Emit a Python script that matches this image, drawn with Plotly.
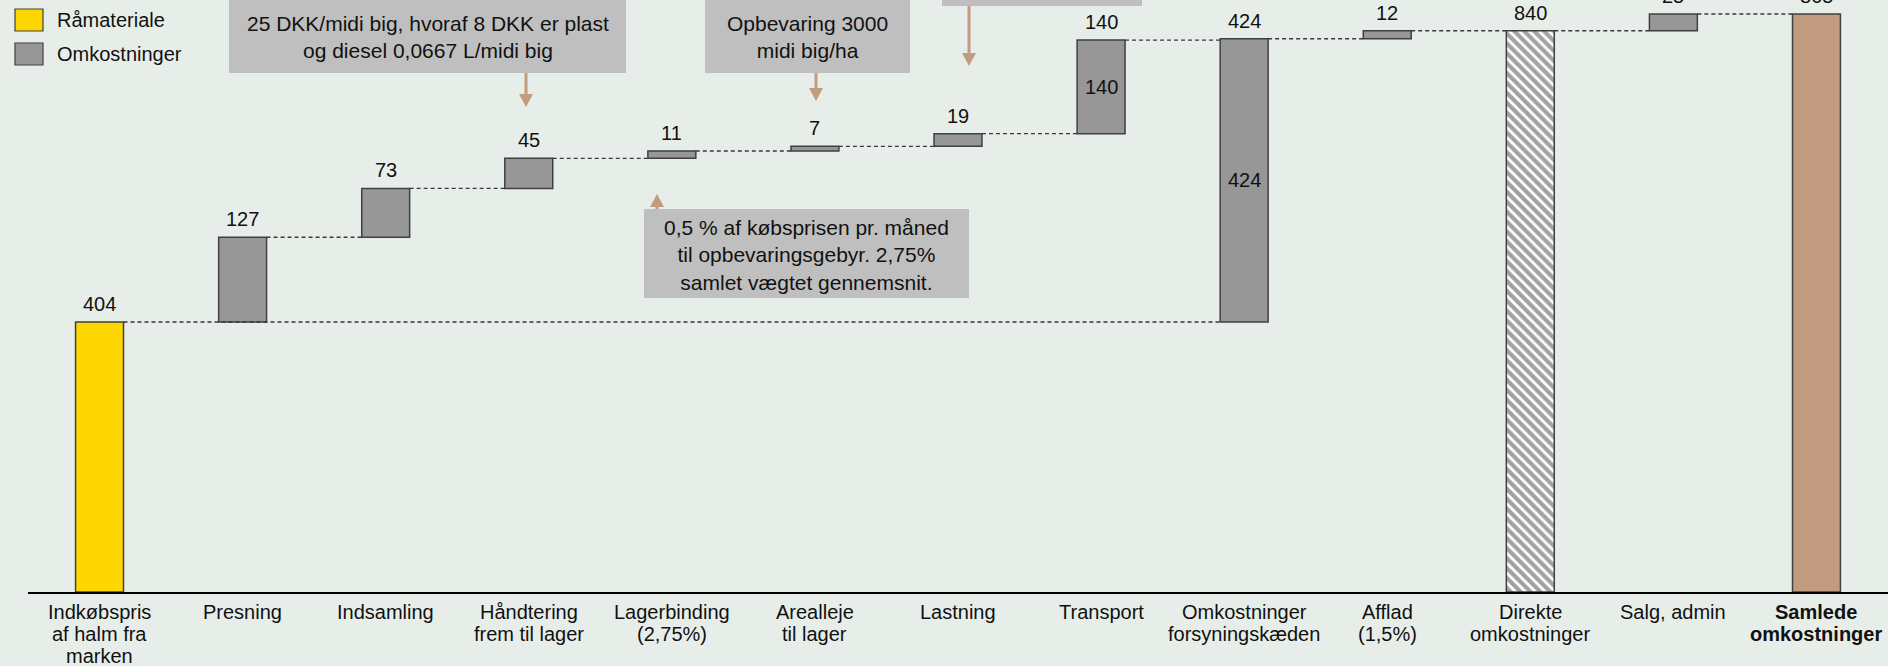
import plotly.graph_objects as go

# ---------------- data ----------------
categories = [
    "Indkøbspris<br>af halm fra<br>marken",
    "Presning",
    "Indsamling",
    "Håndtering<br>frem til lager",
    "Lagerbinding<br>(2,75%)",
    "Arealleje<br>til lager",
    "Lastning",
    "Transport",
    "Omkostninger<br>forsyningskæden",
    "Afflad<br>(1,5%)",
    "Direkte<br>omkostninger",
    "Salg, admin",
    "<b>Samlede</b><br><b>omkostninger</b>",
]
values = [404, 127, 73, 45, 11, 7, 19, 140, 424, 12, 840, 25, 865]
kinds = ["start", "step", "step", "step", "step", "step", "step", "step",
         "subtotal", "step", "total", "step", "total"]
inner_label = [False, False, False, False, False, False, False, True,
               True, False, False, False, False]
legend_names = ["Råmateriale", "Omkostninger"]

box_texts = [
    "25 DKK/midi big, hvoraf 8 DKK er plast<br>og diesel 0,0667 L/midi big",
    "Opbevaring 3000<br>midi big/ha",
    "",
    "0,5 % af købsprisen pr. måned<br>til opbevaringsgebyr. 2,75%<br>samlet vægtet gennemsnit.",
]

# ---------------- style ----------------
BG = "#E7EEE9"
YELLOW = "#FFD700"
GREY = "#979797"
TAN = "#C19B80"
EDGE = "#404040"
BOXC = "#BFBFBF"
ARROW = "#C39B7E"
TXT = "#111111"
FONT = "Liberation Sans, Arial, sans-serif"
FS = 20
FS_BOX = 21

W, H = 1888, 666
ML, MR, MT, MB = 28, 0, 0, 74
PW = W - ML - MR
PH = H - MT - MB


def pxx(p):
    return (p - ML) / PW


def pxy(p):
    return (PH + MT - p) / PH


# ---------------- compute waterfall geometry ----------------
bases, heights, colors, shapes_pat = [], [], [], []
running = 0
start_val = 0
n_total = 0
sub_idx = kinds.index("subtotal")
for v, k in zip(values, kinds):
    if k == "start":
        b, h = 0, v
        start_val = v
        running = v
        colors.append(YELLOW)
        shapes_pat.append("")
    elif k == "step":
        b, h = running, v
        running += v
        colors.append(GREY)
        shapes_pat.append("")
    elif k == "subtotal":
        b, h = start_val, v
        running = start_val + v
        colors.append(GREY)
        shapes_pat.append("")
    else:  # total
        b, h = 0, v
        running = v
        colors.append("white" if n_total == 0 else TAN)
        shapes_pat.append("\\" if n_total == 0 else "")
        n_total += 1
    bases.append(b)
    heights.append(h)

tops = [b + h for b, h in zip(bases, heights)]
xs = list(range(len(values)))
BW = 0.335

fig = go.Figure()

# connectors
cx, cy = [], []
for i in range(len(values) - 1):
    lvl = tops[i]
    j = sub_idx if kinds[i] == "start" else i + 1
    cx += [i + BW / 2, j - BW / 2, None]
    cy += [lvl, lvl, None]
fig.add_trace(go.Scatter(x=cx, y=cy, mode="lines", hoverinfo="skip",
                         line=dict(color="#3a3a3a", width=1.4, dash="4px,3px"),
                         showlegend=False))

fig.add_trace(go.Bar(
    x=xs, y=heights, base=bases, width=BW,
    marker=dict(color=colors, line=dict(color=EDGE, width=1.5),
                pattern=dict(shape=shapes_pat, fgcolor="black", bgcolor="white",
                             size=7, solidity=0.6)),
    showlegend=False, hoverinfo="skip",
))

annotations = []
# value labels above bars
for i, (v, t) in enumerate(zip(values, tops)):
    annotations.append(dict(x=i, y=t, xref="x", yref="y", text=str(v),
                            showarrow=False, yanchor="bottom", yshift=5,
                            font=dict(size=FS, color=TXT, family=FONT)))
    if inner_label[i]:
        annotations.append(dict(x=i, y=bases[i] + heights[i] / 2, xref="x", yref="y",
                                text=str(v), showarrow=False, yanchor="middle",
                                font=dict(size=FS, color=TXT, family=FONT)))

# category labels (line by line for tight spacing)
for i, lab in enumerate(categories):
    for k, line in enumerate(lab.split("<br>")):
        annotations.append(dict(x=i, y=0, xref="x", yref="paper", text=line,
                                showarrow=False, yanchor="top", yshift=-7 - 22 * k,
                                font=dict(size=FS, color=TXT, family=FONT)))

shapes = []
# legend
leg_cols = [YELLOW, GREY]
leg_y = [(9, 31), (43, 65)]
for name, col, (y0, y1) in zip(legend_names, leg_cols, leg_y):
    shapes.append(dict(type="rect", xref="paper", yref="paper",
                       x0=pxx(15), x1=pxx(43), y0=pxy(y1), y1=pxy(y0),
                       fillcolor=col, line=dict(color=EDGE, width=1.2)))
    annotations.append(dict(x=pxx(55), y=pxy((y0 + y1) / 2), xref="paper", yref="paper",
                            text=name, showarrow=False, xanchor="left", yanchor="middle",
                            font=dict(size=FS, color=TXT, family=FONT)))

# callout boxes (pixel geometry)
boxes = [
    dict(x0=229, x1=626, y0=-10, y1=73, cy=37),
    dict(x0=705, x1=910, y0=-10, y1=73, cy=37),
    dict(x0=942, x1=1142, y0=-60, y1=6, cy=-27),
    dict(x0=644, x1=969, y0=209, y1=298, cy=255),
]
for b, txt in zip(boxes, box_texts):
    shapes.append(dict(type="rect", xref="paper", yref="paper",
                       x0=pxx(b["x0"]), x1=pxx(b["x1"]), y0=pxy(b["y1"]), y1=pxy(b["y0"]),
                       fillcolor=BOXC, line=dict(width=0), layer="above"))
    if txt:
        annotations.append(dict(x=pxx((b["x0"] + b["x1"]) / 2), y=pxy(b["cy"]),
                                xref="paper", yref="paper", text=txt, showarrow=False,
                                xanchor="center", yanchor="middle",
                                font=dict(size=FS_BOX, color=TXT, family=FONT)))

# arrows: (x, tail_y, tip_y)
arrows = [(526, 73, 107), (816, 73, 101), (969, 6, 66), (657, 209, 194)]
for ax_, y0, y1 in arrows:
    d = 1 if y1 > y0 else -1
    head = 13
    yb = y1 - d * head
    if abs(yb - y0) > 1:
        shapes.append(dict(type="line", xref="paper", yref="paper",
                           x0=pxx(ax_), x1=pxx(ax_), y0=pxy(y0), y1=pxy(yb),
                           line=dict(color=ARROW, width=3), layer="above"))
    path = "M {a},{b} L {c},{b} L {e},{f} Z".format(
        a=pxx(ax_ - 7), b=pxy(yb), c=pxx(ax_ + 7), e=pxx(ax_), f=pxy(y1))
    shapes.append(dict(type="path", xref="paper", yref="paper", path=path,
                       fillcolor=ARROW, line=dict(width=0), layer="above"))

fig.update_layout(
    width=W, height=H,
    margin=dict(l=ML, r=MR, t=MT, b=MB),
    paper_bgcolor=BG, plot_bgcolor=BG,
    font=dict(family=FONT, size=FS, color=TXT),
    xaxis=dict(range=[-0.5, len(values) - 0.5], showticklabels=False, ticks="",
               showgrid=False, zeroline=False, showline=True, linecolor="black",
               linewidth=2, fixedrange=True),
    yaxis=dict(range=[0, 886], visible=False, showgrid=False, zeroline=False,
               fixedrange=True),
    annotations=annotations,
    shapes=shapes,
    bargap=0,
)

fig.write_html("out.html",
               config={"displayModeBar": False, "staticPlot": True},
               post_script="document.body.style.margin='0';"
                           "document.body.style.overflow='hidden';"
                           f"document.body.style.background='{BG}';")
